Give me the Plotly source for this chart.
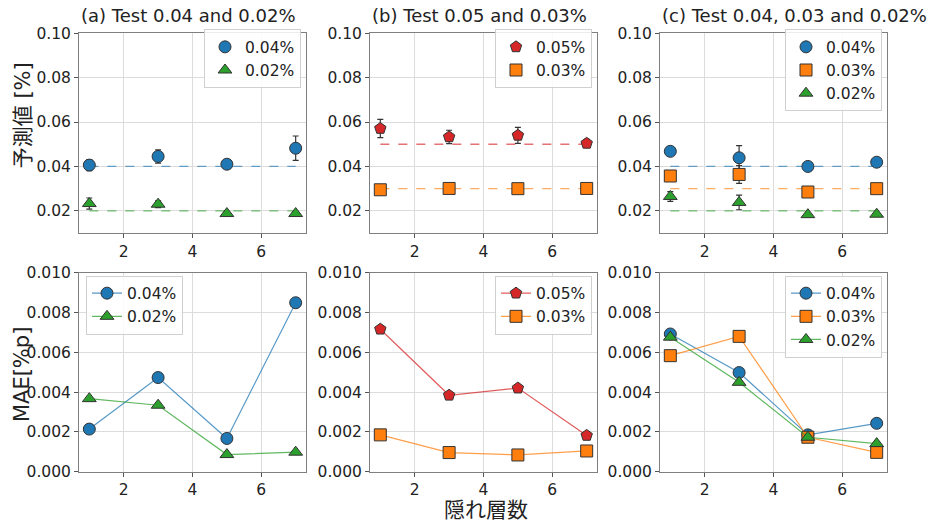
import plotly.graph_objects as go

W, H = 933, 528

# ---------------- data ----------------
layers = [1, 3, 5, 7]

# (a) Test 0.04 and 0.02%
a_pred_04 = [0.0406, 0.0445, 0.0410, 0.0482]
a_err_04 = [0.0025, 0.0030, 0.0008, 0.0055]
a_pred_02 = [0.0233, 0.0230, 0.0188, 0.0188]
a_err_02 = [0.0025, 0.0015, 0.0006, 0.0006]
a_mae_04 = [0.00214, 0.00473, 0.00167, 0.00849]
a_mae_02 = [0.00367, 0.00334, 0.00086, 0.00098]

# (b) Test 0.05 and 0.03%
b_pred_05 = [0.0571, 0.0533, 0.0540, 0.0504]
b_err_05 = [0.0041, 0.0030, 0.0036, 0.0018]
b_pred_03 = [0.0295, 0.0301, 0.0300, 0.0301]
b_err_03 = [0.0005, 0.0005, 0.0005, 0.0005]
b_mae_05 = [0.00716, 0.00384, 0.00420, 0.00182]
b_mae_03 = [0.00185, 0.00096, 0.00084, 0.00104]

# (c) Test 0.04, 0.03 and 0.02%
c_pred_04 = [0.0468, 0.0439, 0.0400, 0.0419]
c_err_04 = [0.0008, 0.0055, 0.0010, 0.0008]
c_pred_03 = [0.0357, 0.0364, 0.0285, 0.0300]
c_err_03 = [0.0010, 0.0040, 0.0008, 0.0006]
c_pred_02 = [0.0265, 0.0238, 0.0183, 0.0185]
c_err_02 = [0.0022, 0.0033, 0.0006, 0.0006]
c_mae_04 = [0.00692, 0.00498, 0.00185, 0.00243]
c_mae_03 = [0.00583, 0.00680, 0.00173, 0.00097]
c_mae_02 = [0.00676, 0.00449, 0.00173, 0.00141]

titles = ["(a) Test 0.04 and 0.02%", "(b) Test 0.05 and 0.03%", "(c) Test 0.04, 0.03 and 0.02%"]
xticks = [2, 4, 6]
yticks_pred = [0.02, 0.04, 0.06, 0.08, 0.10]
yticks_mae = [0.000, 0.002, 0.004, 0.006, 0.008, 0.010]

BLUE, ORANGE, GREEN, RED = "#1f77b4", "#ff7f0e", "#2ca02c", "#d62728"
SYM = {"0.04%": "circle", "0.02%": "triangle-up", "0.05%": "pentagon", "0.03%": "square"}
COL = {"0.04%": BLUE, "0.02%": GREEN, "0.05%": RED, "0.03%": ORANGE}
TRUE = {"0.04%": 0.04, "0.02%": 0.02, "0.05%": 0.05, "0.03%": 0.03}

def rgba(hexc, a):
    h = hexc.lstrip("#")
    return "rgba(%d,%d,%d,%s)" % (int(h[0:2], 16), int(h[2:4], 16), int(h[4:6], 16), a)

# ---------------- layout geometry (pixels) ----------------
px_x = [(79, 306), (370, 597), (660, 887)]
px_top = (25, 232)
px_bot = (273, 479)

def fx(p):
    return p / W

def fy(p):
    return 1 - p / H

FONT = "DejaVu Sans, Noto Sans CJK JP, sans-serif"
fig = go.Figure()

panels_pred = [
    [("0.04%", a_pred_04, a_err_04), ("0.02%", a_pred_02, a_err_02)],
    [("0.05%", b_pred_05, b_err_05), ("0.03%", b_pred_03, b_err_03)],
    [("0.04%", c_pred_04, c_err_04), ("0.03%", c_pred_03, c_err_03), ("0.02%", c_pred_02, c_err_02)],
]
panels_mae = [
    [("0.04%", a_mae_04), ("0.02%", a_mae_02)],
    [("0.05%", b_mae_05), ("0.03%", b_mae_03)],
    [("0.04%", c_mae_04), ("0.03%", c_mae_03), ("0.02%", c_mae_02)],
]

axis_common = dict(
    showline=True, mirror=True, linecolor="#7f7f7f", linewidth=1,
    showgrid=True, gridcolor="#dcdcdc", gridwidth=1,
    ticks="outside", ticklen=4, tickcolor="#555",
    tickfont=dict(family=FONT, size=15.5, color="#222"), zeroline=False,
)

legend_ids = ["legend", "legend2", "legend3", "legend4", "legend5", "legend6"]

for i in range(3):
    for row in range(2):
        k = i + 1 + 3 * row
        xa = "x" if k == 1 else "x%d" % k
        ya = "y" if k == 1 else "y%d" % k
        xkey = "xaxis" if k == 1 else "xaxis%d" % k
        ykey = "yaxis" if k == 1 else "yaxis%d" % k
        leg = legend_ids[k - 1]
        x0, x1 = px_x[i]
        if row == 0:
            yb, yt = px_top
            fig.update_layout(**{
                xkey: dict(domain=[fx(x0), fx(x1)], range=[0.7, 7.3], tickvals=xticks, anchor=ya, **axis_common),
                ykey: dict(domain=[fy(yt), fy(yb)], range=[0.01, 0.10], tickvals=yticks_pred,
                           tickformat=".2f", anchor=xa, **axis_common),
            })
            for name, vals, errs in panels_pred[i]:
                fig.add_trace(go.Scatter(
                    x=[layers[0], layers[-1]], y=[TRUE[name], TRUE[name]], mode="lines",
                    line=dict(color=rgba(COL[name], 0.65), width=1.3, dash="dash"),
                    showlegend=False, hoverinfo="skip", xaxis=xa, yaxis=ya))
            for name, vals, errs in panels_pred[i]:
                fig.add_trace(go.Scatter(
                    x=layers, y=vals, mode="markers", name=name,
                    marker=dict(symbol=SYM[name], size=12, color=COL[name],
                                line=dict(color="#333", width=1)),
                    error_y=dict(type="data", array=errs, visible=True, color="#333",
                                 thickness=1.2, width=3),
                    xaxis=xa, yaxis=ya, legend=leg))
        else:
            yb, yt = px_bot
            fig.update_layout(**{
                xkey: dict(domain=[fx(x0), fx(x1)], range=[0.7, 7.3], tickvals=xticks, anchor=ya, **axis_common),
                ykey: dict(domain=[fy(yt), fy(yb)], range=[0, 0.010], tickvals=yticks_mae,
                           tickformat=".3f", anchor=xa, **axis_common),
            })
            for name, vals in panels_mae[i]:
                fig.add_trace(go.Scatter(
                    x=layers, y=vals, mode="lines+markers", name=name,
                    line=dict(color=rgba(COL[name], 0.75), width=1.2),
                    marker=dict(symbol=SYM[name], size=12, color=COL[name],
                                line=dict(color="#333", width=1)),
                    xaxis=xa, yaxis=ya, legend=leg))

# legends
leg_common = dict(font=dict(family=FONT, size=15.5, color="#222"), bgcolor="rgba(255,255,255,0.85)",
                  bordercolor="#d0d0d0", borderwidth=1, tracegroupgap=0, itemwidth=30)
legends = {
    "legend": dict(x=fx(301), y=fy(21), xanchor="right", yanchor="top"),
    "legend2": dict(x=fx(592), y=fy(21), xanchor="right", yanchor="top"),
    "legend3": dict(x=fx(882), y=fy(21), xanchor="right", yanchor="top"),
    "legend4": dict(x=fx(86), y=fy(276), xanchor="left", yanchor="top"),
    "legend5": dict(x=fx(592), y=fy(276), xanchor="right", yanchor="top"),
    "legend6": dict(x=fx(882), y=fy(276), xanchor="right", yanchor="top"),
}
for key, pos in legends.items():
    fig.update_layout(**{key: dict(**pos, **leg_common)})

annotations = []
for i in range(3):
    annotations.append(dict(text=titles[i], x=fx(px_x[i][0]), y=fy(px_top[0]), xref="paper", yref="paper",
                            xanchor="left", yanchor="bottom", showarrow=False, yshift=5,
                            font=dict(family=FONT, size=18, color="#222")))
annotations.append(dict(text="予測値 [%]", x=fx(23), y=fy(110), xref="paper", yref="paper", textangle=-90,
                        showarrow=False, xanchor="center", yanchor="middle",
                        font=dict(family=FONT, size=21, color="#222")))
annotations.append(dict(text="MAE[%p]", x=fx(22), y=fy(379), xref="paper", yref="paper", textangle=-90,
                        showarrow=False, xanchor="center", yanchor="middle",
                        font=dict(family=FONT, size=21, color="#222")))
annotations.append(dict(text="隠れ層数", x=fx(486), y=fy(519), xref="paper", yref="paper",
                        showarrow=False, xanchor="center", yanchor="middle",
                        font=dict(family=FONT, size=21, color="#222")))

fig.update_layout(width=W, height=H, margin=dict(l=0, r=0, t=0, b=0),
                  paper_bgcolor="white", plot_bgcolor="white", annotations=annotations,
                  font=dict(family=FONT))

fig.write_html("out.html")
